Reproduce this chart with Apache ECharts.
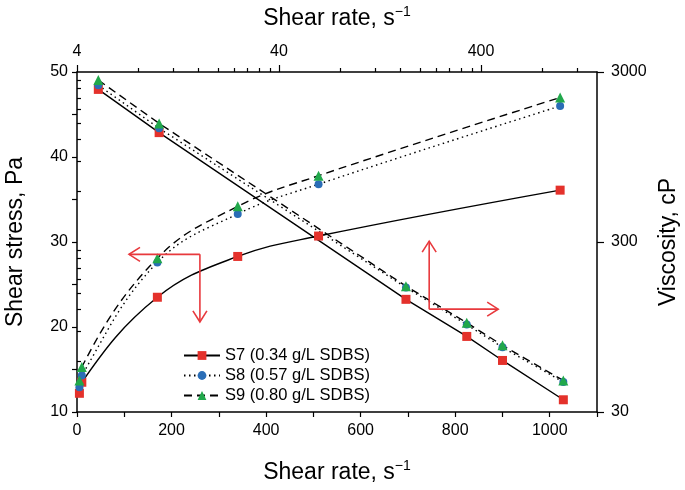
<!DOCTYPE html>
<html>
<head>
<meta charset="utf-8">
<script src="https://cdn.jsdelivr.net/npm/echarts@6/dist/echarts.min.js"></script>
<style>html,body{margin:0;padding:0;background:#fff;}#c{width:685px;height:490px;}</style>
</head>
<body>
<div id="c"></div>
<script>
// ---- data ----
const shearRate = [5.1, 10.2, 170, 340, 511, 1022];
const stressS7 = [12.2, 13.5, 23.5, 28.3, 30.7, 36.1];
const stressS8 = [12.9, 14.3, 27.6, 33.3, 36.8, 46.0];
const stressS9 = [13.7, 15.3, 28.1, 34.2, 37.8, 47.0];
const viscS7 = [2370, 1320, 138, 83.5, 60.3, 35.4];
const viscS8 = [2510, 1400, 162, 98, 72, 45];
const viscS9 = [2690, 1495, 165, 100.5, 74, 46];
const seriesNames = ['S7 (0.34 g/L SDBS)', 'S8 (0.57 g/L SDBS)', 'S9 (0.80 g/L SDBS)'];
const topMajorTicks = [4, 40, 400];
const topMinorTicks = [8, 12, 16, 20, 24, 28, 32, 36, 80, 120, 160, 200, 240, 280, 320, 360, 800, 1200];
const rightMajorTicks = [30, 300, 3000];
const rightMinorTicks = [60, 90, 120, 150, 180, 210, 240, 270, 600, 900, 1200, 1500, 1800, 2100, 2400, 2700];

const FONT = '"Liberation Sans", Arial, Helvetica, sans-serif';
const RED = '#e4312b', BLUE = '#2a6db6', GREEN = '#21a84b', ARROW = '#e8393d';
const zip = (xs, ys) => xs.map((x, i) => [x, ys[i]]);

const axisLine = {show: true, onZero: false, lineStyle: {color: '#000', width: 1.5}};
const tickStyle = {color: '#000', width: 1.2};
const labelStyle = {color: '#000', fontSize: 16, fontFamily: FONT};
const nameStyle = {color: '#000', fontSize: 23, fontFamily: FONT};
const nameRich = {color: '#000', fontSize: 23, fontFamily: FONT, lineHeight: 27,
  rich: {sup: {fontSize: 14, fontFamily: FONT, color: '#000', verticalAlign: 'top', lineHeight: 15}}};

const markers = [
  {symbol: 'rect', symbolSize: 9, color: RED, line: 'solid'},
  {symbol: 'circle', symbolSize: 8, color: BLUE, line: [1.5, 3.5]},
  {symbol: 'triangle', symbolSize: 10, color: GREEN, line: [8, 5]}
];
const stressSets = [stressS7, stressS8, stressS9];
const viscSets = [viscS7, viscS8, viscS9];

const series = [];
stressSets.forEach((s, i) => {
  series.push({
    name: seriesNames[i], type: 'line', xAxisIndex: 0, yAxisIndex: 0,
    data: zip(shearRate, s), smooth: 0.4,
    symbol: markers[i].symbol, symbolSize: markers[i].symbolSize,
    itemStyle: {color: markers[i].color},
    lineStyle: {color: '#000', width: 1.4, type: markers[i].line},
    z: 3
  });
});
viscSets.forEach((s, i) => {
  series.push({
    name: seriesNames[i], type: 'line', xAxisIndex: 1, yAxisIndex: 1,
    data: zip(shearRate, s),
    symbol: markers[i].symbol, symbolSize: markers[i].symbolSize,
    itemStyle: {color: markers[i].color},
    lineStyle: {color: '#000', width: 1.4, type: markers[i].line},
    z: 3
  });
});

const chart = echarts.init(document.getElementById('c'), null, {renderer: 'canvas'});
const option = {
  animation: false,
  backgroundColor: '#fff',
  textStyle: {fontFamily: FONT},
  grid: {left: 77, right: 88, top: 72, bottom: 78, containLabel: false, outerBoundsMode: 'none'},
  legend: {
    data: seriesNames, orient: 'vertical', left: 178, top: 342,
    itemWidth: 36, itemHeight: 11, itemGap: 3,
    textStyle: {color: '#000', fontSize: 16.5, fontFamily: FONT},
    selectedMode: false
  },
  xAxis: [
    {type: 'value', position: 'bottom', min: 0, max: 1100, interval: 100,
     name: 'Shear rate, s{sup|\u22121}', nameLocation: 'middle', nameGap: 47, nameTextStyle: nameRich,
     axisLine: axisLine, axisTick: {show: true, length: 5, lineStyle: tickStyle},
     axisLabel: Object.assign({margin: 11, formatter: v => (v % 200 === 0 && v <= 1000) ? String(v) : ''}, labelStyle),
     splitLine: {show: false}},
    {type: 'log', position: 'top', min: 4, max: 1500, logBase: 10,
     name: 'Shear rate, s{sup|\u22121}', nameLocation: 'middle', nameGap: 40, nameTextStyle: nameRich,
     axisLine: axisLine,
     axisTick: {show: true, length: 7, lineStyle: tickStyle, customValues: topMajorTicks},
     axisLabel: Object.assign({margin: 12, customValues: topMajorTicks, formatter: v => String(Math.round(v))}, labelStyle),
     splitLine: {show: false}},
    {type: 'log', position: 'top', min: 4, max: 1500, logBase: 10,
     axisLine: {show: false},
     axisTick: {show: true, length: 4, lineStyle: tickStyle, customValues: topMinorTicks},
     axisLabel: {show: false}, splitLine: {show: false}}
  ],
  yAxis: [
    {type: 'value', position: 'left', min: 10, max: 50, interval: 5,
     name: 'Shear stress, Pa', nameLocation: 'middle', nameGap: 50, nameRotate: 90, nameTextStyle: nameStyle,
     axisLine: axisLine, axisTick: {show: true, length: 5, lineStyle: tickStyle},
     axisLabel: Object.assign({margin: 9, formatter: v => (v % 10 === 0) ? String(v) : ''}, labelStyle),
     splitLine: {show: false}},
    {type: 'log', position: 'right', min: 30, max: 3000, logBase: 10,
     name: 'Viscosity, cP', nameLocation: 'middle', nameGap: 59, nameRotate: 90, nameTextStyle: nameStyle,
     axisLine: axisLine,
     axisTick: {show: true, length: 7, lineStyle: tickStyle, customValues: rightMajorTicks},
     axisLabel: Object.assign({margin: 14, customValues: rightMajorTicks, formatter: v => String(Math.round(v))}, labelStyle),
     splitLine: {show: false}},
    {type: 'log', position: 'right', min: 30, max: 3000, logBase: 10,
     axisLine: {show: false},
     axisTick: {show: true, length: 4, lineStyle: tickStyle, customValues: rightMinorTicks},
     axisLabel: {show: false}, splitLine: {show: false}}
  ],
  series: series
};
chart.setOption(option);

// ---- red annotation arrows (positions in shear-rate / shear-stress space) ----
const arrowLeft = {corner: [260, 28.55], hEnd: 110, vEnd: 20.6};
const arrowRight = {corner: [745, 22.1], vEnd: 30.1, hEnd: 891};
function px(p) { return chart.convertToPixel({xAxisIndex: 0, yAxisIndex: 0}, p); }
function arrowPieces(from, to) {
  const dx = to[0] - from[0], dy = to[1] - from[1];
  const len = Math.hypot(dx, dy), ux = dx / len, uy = dy / len;
  const L = 11, W = 7;
  const bx = to[0] - ux * L, by = to[1] - uy * L;
  return [
    {type: 'line', shape: {x1: from[0], y1: from[1], x2: to[0], y2: to[1]}, style: {stroke: ARROW, lineWidth: 1.6}, z: 10},
    {type: 'polyline', shape: {points: [[bx - uy * W, by + ux * W], to, [bx + uy * W, by - ux * W]]}, style: {stroke: ARROW, lineWidth: 1.6, fill: null}, z: 10}
  ];
}
const cL = px(arrowLeft.corner), cR = px(arrowRight.corner);
const graphics = [].concat(
  arrowPieces(cL, px([arrowLeft.hEnd, arrowLeft.corner[1]])),
  arrowPieces(cL, px([arrowLeft.corner[0], arrowLeft.vEnd])),
  arrowPieces(cR, px([arrowRight.corner[0], arrowRight.vEnd])),
  arrowPieces(cR, px([arrowRight.hEnd, arrowRight.corner[1]]))
);
chart.setOption({graphic: graphics});
</script>
</body>
</html>
